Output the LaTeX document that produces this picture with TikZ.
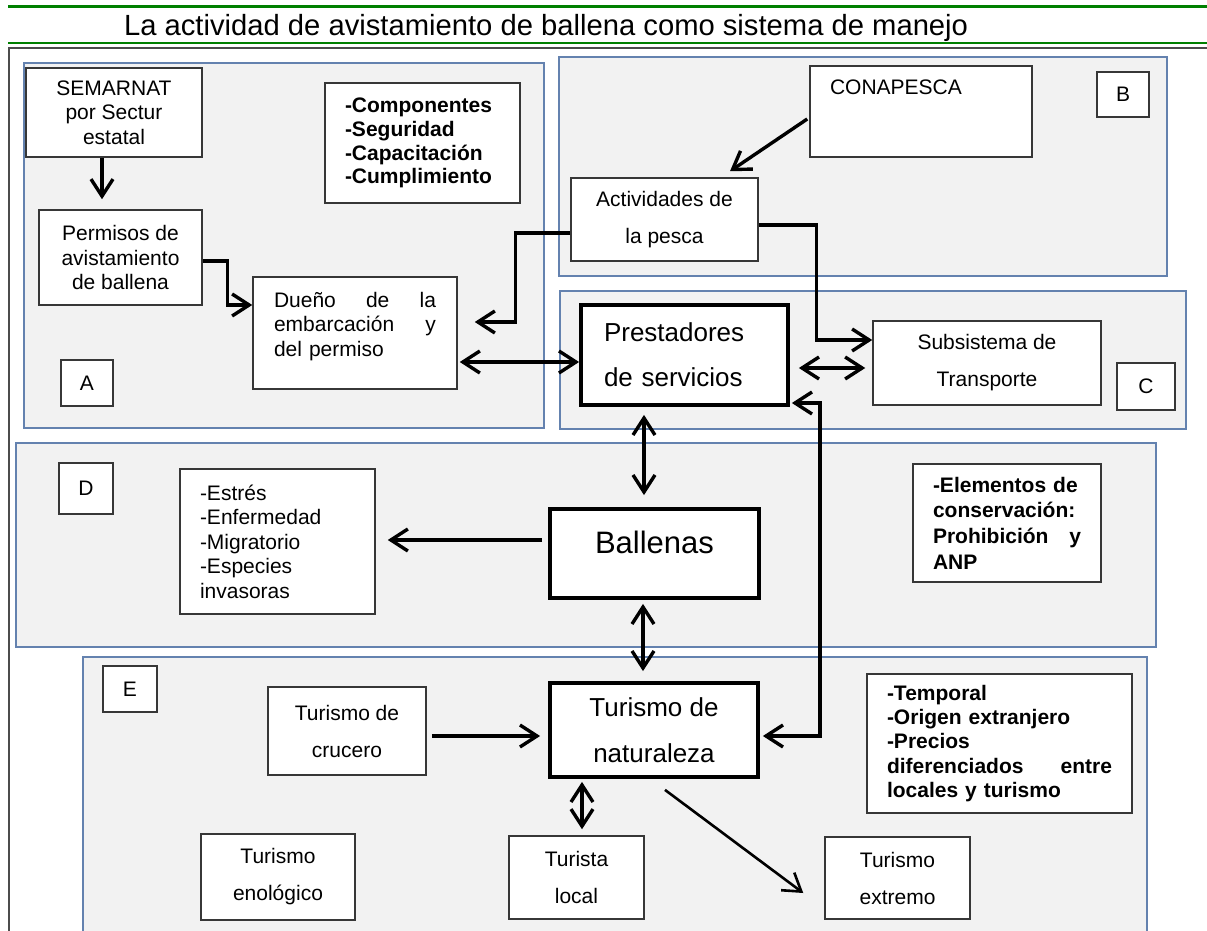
\documentclass[tikz,border=0pt]{standalone}
\usepackage{fontspec}
\setmainfont{Liberation Sans}
\usetikzlibrary{arrows.meta}

\definecolor{panelblue}{RGB}{100,130,175}
\definecolor{panelgray}{RGB}{242,242,242}
\definecolor{boxline}{RGB}{55,55,55}
\definecolor{headgreen}{RGB}{0,128,0}

\tikzset{
  panel/.style={draw=panelblue, fill=panelgray, line width=0.7pt},
  box/.style={draw=boxline, fill=white, line width=0.75pt, inner sep=0pt,
    align=center, font=\fontsize{10.5}{12.25}\selectfont},
  bigbox/.style={box, draw=black, line width=1.9pt},
  tallbox/.style={box, font=\fontsize{10.5}{18.5}\selectfont},
  listbox/.style={box, align=left, inner xsep=10pt},
  arr/.style={line width=1.7pt, -{Straight Barb[length=8.5pt,width=11pt]}},
  dblarr/.style={line width=1.7pt,
    {Straight Barb[length=8.5pt,width=11pt]}-{Straight Barb[length=8.5pt,width=11pt]}},
}

\begin{document}
\begin{tikzpicture}[x=0.5pt, y=-0.5pt]
  \clip (0,0) rectangle (1207,931);

  % header
  \draw[headgreen, line width=1.5pt] (8,6.5) -- (1207,6.5);
  \node[anchor=base west, font=\fontsize{14.6}{17}\selectfont] (title) at (117,36)
    {La actividad de avistamiento de ballena como sistema de manejo};
  \draw[headgreen, line width=1pt] (8,43.5) -- (1207,43.5);
  \draw[black!70, line width=1pt] (8.5,931) -- (8.5,48) -- (1207,48);

  % subsystems
  \draw[panel] (24,63) rectangle (544,428);
  \draw[panel] (559,57) rectangle (1167,276);
  \draw[panel] (560,291) rectangle (1186,429);
  \draw[panel] (16,443) rectangle (1156,647);
  \draw[panel] (83,657) rectangle (1147,960);

  % A
  \node[box, minimum width=88pt, minimum height=44.5pt] (semarnat) at (114,112.5)
    {SEMARNAT\\por Sectur\\estatal};
  \node[box, minimum width=81.5pt, minimum height=47.5pt] (permisos) at (120.5,257.5)
    {Permisos de\\avistamiento\\de ballena};
  \node[box, align=left, text width=81pt, inner xsep=10pt, minimum width=102pt,
    text height=15.25pt, text depth=40.75pt] (dueno) at (355,333)
    {Dueño \hfill de \hfill la\\embarcación \hfill y\\del permiso};
  \node[listbox, text width=77.5pt, minimum height=60pt,
    font=\fontsize{10.5}{11.85}\selectfont\bfseries] (compo) at (422.5,143)
    {-Componentes\\-Seguridad\\-Capacitación\\-Cumplimiento};
  \node[box, minimum width=26pt, minimum height=23pt] (labA) at (87,383) {A};

  % B
  \node[box, align=left, text width=91pt, inner xsep=10pt,
    text height=14.25pt, text depth=31.25pt] (conapesca) at (921,111.5) {CONAPESCA};
  \node[box, minimum width=26pt, minimum height=22.5pt] (labB) at (1123,94.5) {B};
  \node[tallbox, minimum width=93.5pt, minimum height=41.5pt] (activ) at (664.5,219.5)
    {Actividades de\\la pesca};

  % C
  \node[bigbox, align=left, text width=80.5pt, inner xsep=11.5pt, minimum height=50pt,
    font=\fontsize{13}{22.5}\selectfont] (prest) at (684.5,355)
    {Prestadores\\de servicios};
  \node[tallbox, minimum width=114pt, minimum height=42pt] (subsis) at (987,363)
    {Subsistema de\\Transporte};
  \node[box, minimum width=29pt, minimum height=23.5pt] (labC) at (1146,386.5) {C};

  % D
  \node[box, minimum width=27pt, minimum height=25.5pt] (labD) at (86,488.5) {D};
  \node[listbox, text width=77.5pt, minimum height=72.5pt] (estres) at (277.5,541.5)
    {-Estrés\\-Enfermedad\\-Migratorio\\-Especies\\invasoras};
  \node[bigbox, minimum width=104.5pt, text height=22pt, text depth=22.5pt,
    font=\fontsize{15.5}{18}\selectfont] (ballenas) at (654.5,553.5) {Ballenas};
  \node[listbox, text width=74pt, minimum height=59pt,
    font=\fontsize{10.5}{12.8}\selectfont\bfseries] (elem) at (1007,523)
    {-Elementos de\\conservación:\\Prohibición \hfill y\\ANP};

  % E
  \node[box, minimum width=27pt, minimum height=23pt] (labE) at (130,689) {E};
  \node[tallbox, minimum width=79pt, minimum height=44pt] (crucero) at (347,731)
    {Turismo de\\crucero};
  \node[bigbox, minimum width=104pt, minimum height=47pt,
    font=\fontsize{13}{23}\selectfont] (natur) at (654,730)
    {Turismo de\\naturaleza};
  \node[listbox, text width=112.5pt, minimum height=69.5pt,
    font=\fontsize{10.5}{12.1}\selectfont\bfseries] (temporal) at (999.5,743.5)
    {-Temporal\\-Origen extranjero\\-Precios\\diferenciados \hfill entre\\locales y turismo};
  \node[tallbox, minimum width=77pt, minimum height=43pt] (enolog) at (278,877)
    {Turismo\\enológico};
  \node[tallbox, minimum width=67.5pt, minimum height=41.5pt] (local) at (576.5,877.5)
    {Turista\\local};
  \node[tallbox, minimum width=72.5pt, minimum height=41pt] (extremo) at (897.5,878)
    {Turismo\\extremo};

  % connectors
  \draw[arr, shorten >=5pt] ([xshift=-6pt]semarnat.south) -- ([xshift=-6pt]semarnat.south |- permisos.north);
  \draw[arr] ([yshift=-1.75pt]permisos.east) -- ++(12.5pt,0pt) |- ([yshift=14pt]dueno.west);
  \draw[arr, shorten >=8.5pt] ([yshift=-6.75pt]activ.west) -- ++(-27.5pt,0pt) |- ([yshift=5.5pt]dueno.east);
  \draw[dblarr, shorten <=1pt] ([yshift=-14.5pt]dueno.east) -- ([yshift=-14.5pt]dueno.east -| prest.west);
  \draw[arr] ([xshift=-1pt,yshift=-3.75pt]conapesca.west) -- ([xshift=32.75pt,yshift=3pt]activ.north);
  \draw[arr] ([yshift=-2.75pt]activ.east) -- ++(29pt,0pt) |- ([yshift=11.5pt]subsis.west);
  \draw[dblarr, shorten <=4.5pt, shorten >=3.5pt] ([yshift=-6.5pt]prest.east) -- ([yshift=-6.5pt]prest.east -| subsis.west);
  \draw[dblarr, shorten <=4pt, shorten >=6pt] ([xshift=-20.25pt]prest.south) -- ([xshift=-20.25pt]prest.south |- ballenas.north);
  \draw[arr, shorten <=3pt, shorten >=6pt] ([yshift=6.75pt]ballenas.west) -- ([yshift=6.75pt]ballenas.west -| estres.east);
  \draw[dblarr, shorten <=2pt, shorten >=5pt] ([xshift=-5.75pt]ballenas.south) -- ([xshift=-5.75pt]ballenas.south |- natur.north);
  \draw[arr, shorten <=2.5pt, shorten >=4pt] ([yshift=-2.5pt]crucero.east) -- ([yshift=-2.5pt]crucero.east -| natur.west);
  \draw[dblarr, shorten <=1pt, shorten >=1.5pt] ([yshift=-24pt]prest.east) -- ++(15pt,0pt) |- ([yshift=-3pt]natur.east);
  \draw[dblarr, shorten <=1.5pt, shorten >=3pt] ([xshift=-36pt]natur.south) -- ([xshift=-36pt]natur.south |- local.north);
  \draw[arr, line width=1.3pt] ([xshift=5.5pt,yshift=-5.5pt]natur.south) -- ([xshift=-10.5pt,yshift=-7.5pt]extremo.west);
\end{tikzpicture}
\end{document}
